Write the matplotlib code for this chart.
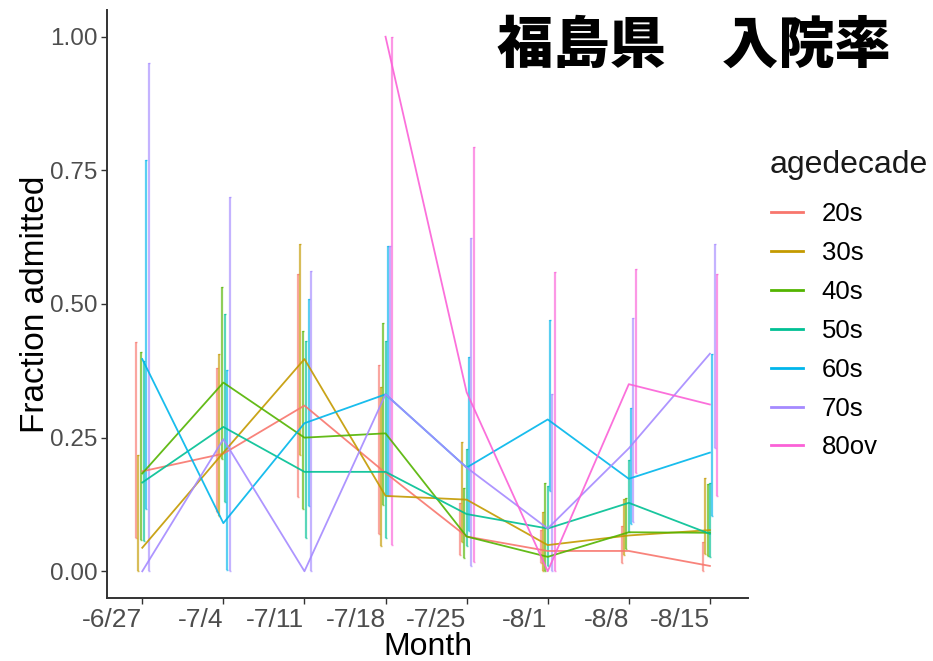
import numpy as np
import matplotlib
matplotlib.use("Agg")
from matplotlib import pyplot as plt

plt.rcParams['font.family'] = ['Liberation Sans', 'Noto Sans CJK JP', 'DejaVu Sans']

weeks = ['-6/27', '-7/4', '-7/11', '-7/18', '-7/25', '-8/1', '-8/8', '-8/15']
ages = ['20s', '30s', '40s', '50s', '60s', '70s', '80ov']
colors = ['#F8766D', '#C49A00', '#53B400', '#00C094', '#00B6EB', '#A58AFF', '#FB61D7']
nan = np.nan

# fraction admitted, one row per age group, one column per week
frac = [
    [0.187, 0.220, 0.310, 0.184, 0.065, 0.038, 0.038, 0.010],
    [0.044, 0.222, 0.397, 0.141, 0.134, 0.049, 0.067, 0.077],
    [0.183, 0.353, 0.250, 0.258, 0.065, 0.027, 0.073, 0.072],
    [0.166, 0.270, 0.186, 0.186, 0.107, 0.080, 0.128, 0.070],
    [0.397, 0.090, 0.277, 0.331, 0.194, 0.284, 0.173, 0.222],
    [0.000, 0.247, 0.000, 0.331, 0.194, 0.080, 0.230, 0.407],
    [nan, nan, nan, 1.000, 0.335, 0.000, 0.350, 0.312],
]
lower = [
    [0.063, 0.110, 0.139, 0.070, 0.030, 0.016, 0.016, 0.000],
    [0.000, 0.103, 0.217, 0.047, 0.055, 0.000, 0.030, 0.032],
    [0.059, 0.210, 0.117, 0.124, 0.024, 0.000, 0.041, 0.029],
    [0.057, 0.130, 0.063, 0.063, 0.047, 0.010, 0.073, 0.026],
    [0.116, 0.002, 0.123, 0.141, 0.075, 0.150, 0.088, 0.103],
    [0.000, 0.000, 0.000, 0.141, 0.010, 0.000, 0.092, 0.231],
    [nan, nan, nan, 0.049, 0.017, 0.000, 0.184, 0.141],
]
upper = [
    [0.429, 0.380, 0.556, 0.385, 0.127, 0.078, 0.085, 0.054],
    [0.217, 0.407, 0.613, 0.345, 0.242, 0.110, 0.136, 0.175],
    [0.410, 0.531, 0.449, 0.465, 0.155, 0.165, 0.137, 0.163],
    [0.393, 0.482, 0.430, 0.430, 0.229, 0.160, 0.209, 0.166],
    [0.770, 0.376, 0.510, 0.609, 0.400, 0.471, 0.306, 0.406],
    [0.950, 0.700, 0.561, 0.609, 0.624, 0.332, 0.474, 0.613],
    [nan, nan, nan, 1.000, 0.794, 0.560, 0.566, 0.557],
]

frac = np.array(frac)
lower = np.array(lower)
upper = np.array(upper)
xpos = np.arange(1, len(weeks) + 1)
dodge = 0.2

fig = plt.figure(figsize=(9.33, 6.61), dpi=100)
ax = fig.add_axes([107 / 933, 63 / 661, 641 / 933, 588 / 661])

# dodged error bars
for w in range(len(weeks)):
    present = [g for g in range(len(ages)) if not np.isnan(frac[g, w])]
    n = len(present)
    for k, g in enumerate(present):
        xd = xpos[w] + (k - (n - 1) / 2) * dodge / n
        ax.errorbar([xd], [frac[g, w]],
                    yerr=[[frac[g, w] - lower[g, w]], [upper[g, w] - frac[g, w]]],
                    fmt='none', ecolor=colors[g], elinewidth=1.6, capsize=1.0,
                    capthick=1.0, alpha=0.65)

for g, age in enumerate(ages):
    ax.plot(xpos, frac[g], color=colors[g], lw=1.3, alpha=0.9, label=age)

ax.set_xlim(0.565, 8.47)
ax.set_ylim(-0.05, 1.05)
ax.set_yticks([0, 0.25, 0.5, 0.75, 1.0])
ax.set_yticklabels(['0.00', '0.25', '0.50', '0.75', '1.00'])
ax.set_xticks(xpos)
ax.set_xticklabels(weeks, ha='right')
ax.tick_params(axis='both', colors='#333333', labelcolor='#4D4D4D',
               labelsize=17.5, length=4, width=1)
ax.tick_params(axis='x', pad=3, labelsize=19)
ax.tick_params(axis='y', pad=3)

for side in ['top', 'right']:
    ax.spines[side].set_visible(False)
for side in ['left', 'bottom']:
    ax.spines[side].set_color('#333333')
    ax.spines[side].set_linewidth(1.4)

ax.set_xlabel('Month', fontsize=23, labelpad=0)
ax.set_ylabel('Fraction admitted', fontsize=24, labelpad=-1)

# legend: title as its own text so the gap to the keys matches
fig.text(770 / 933, 1 - 165 / 661, 'agedecade', fontsize=23, ha='left',
         va='center', color='#1A1A1A')
leg = fig.legend(loc='upper left', bbox_to_anchor=(771 / 933, 1 - 202 / 661),
                 frameon=False, fontsize=18.5,
                 handlelength=1.24, handletextpad=0.74, labelspacing=0.58,
                 borderaxespad=0, borderpad=0)
for line in leg.get_lines():
    line.set_linewidth(2)
    line.set_alpha(1)

fig.text(497 / 933, 1 - 46 / 661, '福島県　入院率', family=['Noto Sans CJK JP'],
         fontweight='black', fontsize=40.5, ha='left', va='center', color='black')

fig.savefig('out.png', dpi=100)
